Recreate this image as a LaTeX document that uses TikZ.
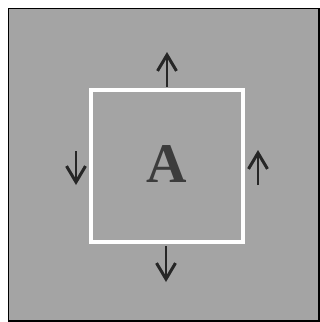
\documentclass[tikz,border=0pt]{standalone}
\usepackage{fontspec}
\usepackage{tikz}
\usetikzlibrary{arrows.meta,positioning}
\newfontfamily\lettface{Liberation Serif}
\definecolor{panelgray}{HTML}{A4A4A4}
\definecolor{lettergray}{HTML}{3C3C3C}

\begin{document}
\begin{tikzpicture}[x=1pt, y=-1pt,
  panel/.style={draw=black, line width=1.4pt, fill=panelgray},
  window/.style={draw=white, line width=4.5pt, minimum size=152pt, inner sep=0pt},
  moveArrow/.style={
    -{Straight Barb[length=16pt, width=19pt, line width=3pt]},
    line width=1.1pt, black!85},
  letter/.style={font=\lettface\fontsize{56}{56}\bfseries\selectfont, text=lettergray, inner sep=0pt}]

\useasboundingbox (0,0) rectangle (320,322);

% gray panel
\draw[panel] (8.5,8.5) rectangle (319,321);

% white window with the letter
\node[window] (win) at (167,166) {};
\node[letter, anchor=base] (lett) at (167,182) {A};

% end points of the arrows
\coordinate (upTail) at (167,87);
\coordinate (upTip) at (167,52);
\coordinate (downTail) at (166,246);
\coordinate (downTip) at (166,282);
\coordinate (leftTail) at (76,151);
\coordinate (leftTip) at (76,185);
\coordinate (rightTail) at (258,185);
\coordinate (rightTip) at (258,150);

% moves
\draw[moveArrow] (upTail) -- (upTip);
\draw[moveArrow] (downTail) -- (downTip);
\draw[moveArrow] (leftTail) -- (leftTip);
\draw[moveArrow] (rightTail) -- (rightTip);

\end{tikzpicture}
\end{document}
